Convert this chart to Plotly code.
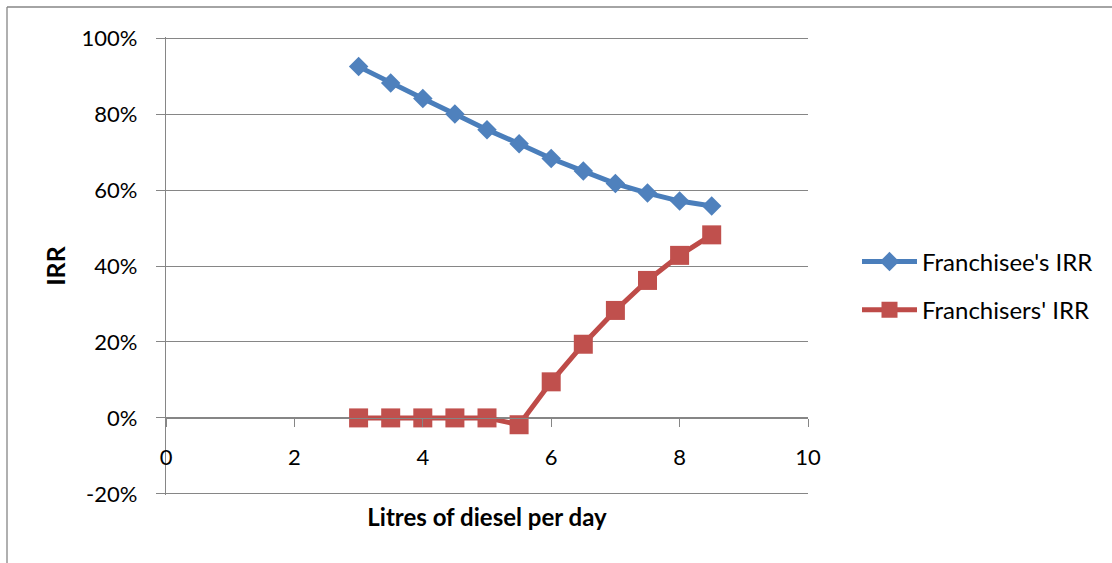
import plotly.graph_objects as go

# Litres of diesel per day and the IRR of each party
litres = [3, 3.5, 4, 4.5, 5, 5.5, 6, 6.5, 7, 7.5, 8, 8.5]
franchisee_irr = [0.925, 0.882, 0.841, 0.800, 0.759, 0.722, 0.683, 0.650, 0.617, 0.592, 0.571, 0.558]
franchiser_irr = [0.0, 0.0, 0.0, 0.0, 0.0, -0.018, 0.095, 0.194, 0.283, 0.362, 0.428, 0.482]

x_ticks = [0, 2, 4, 6, 8, 10]
y_ticks = [-0.2, 0.0, 0.2, 0.4, 0.6, 0.8, 1.0]
y_labels = [f"{v:.0%}" for v in y_ticks]

FONT = "Lato"
GRID = "#868686"

fig = go.Figure()
fig.add_trace(go.Scatter(
    x=litres, y=franchisee_irr, name="Franchisee's IRR", mode="lines+markers",
    line=dict(color="#4A7EBB", width=5),
    marker=dict(symbol="diamond", size=15, color="#4F81BD", line=dict(width=0)),
    legendgroup="a",
))
fig.add_trace(go.Scatter(
    x=litres, y=franchiser_irr, name="Franchisers' IRR", mode="lines+markers",
    line=dict(color="#BE4B48", width=5),
    marker=dict(symbol="square", size=19, color="#C0504D", line=dict(width=0)),
    legendgroup="b",
))

L, R, T, B = 166, 304, 37, 68
W, H = 1112, 563
pw, ph = W - L - R, H - T - B

def px_x(p):
    return (p - L) / pw

def px_y(p):
    return (H - B - p) / ph

# outer chart frame (left and top edges)
fig.add_shape(type="line", xref="paper", yref="paper",
              x0=px_x(7), y0=px_y(7), x1=px_x(W + 5), y1=px_y(7),
              line=dict(color=GRID, width=1.3))
fig.add_shape(type="line", xref="paper", yref="paper",
              x0=px_x(7), y0=px_y(7), x1=px_x(7), y1=px_y(H + 5),
              line=dict(color=GRID, width=1.3))

y_min, y_max = y_ticks[0], y_ticks[-1]
pad = 0.003

fig.update_layout(
    width=W, height=H,
    margin=dict(l=L, r=R, t=T, b=B),
    paper_bgcolor="white", plot_bgcolor="white",
    font=dict(family=FONT, size=22, color="black"),
    showlegend=True,
    legend=dict(
        x=px_x(857), y=px_y(286), xanchor="left", yanchor="middle",
        font=dict(family=FONT, size=24, color="black"),
        tracegroupgap=14, itemwidth=55, bgcolor="rgba(0,0,0,0)",
    ),
    xaxis=dict(
        range=[x_ticks[0], x_ticks[-1]], tickvals=x_ticks,
        showgrid=False, zeroline=False,
        showline=True, linecolor=GRID, linewidth=1.3,
        ticks="outside", ticklen=8, tickcolor=GRID, tickwidth=1.3,
        anchor="free", position=(0 - y_min + pad) / (y_max - y_min + 2 * pad),
        ticklabelstandoff=12,
        title=dict(text="<b>Litres of diesel per day</b>", standoff=39,
                   font=dict(family=FONT, size=24)),
    ),
    yaxis=dict(
        range=[y_min - pad, y_max + pad],
        tickmode="array", tickvals=y_ticks, ticktext=y_labels,
        showgrid=True, gridcolor=GRID, gridwidth=1.3,
        zeroline=False,
        showline=True, linecolor=GRID, linewidth=1.3,
        ticks="outside", ticklen=9, tickcolor=GRID, tickwidth=1.3,
        ticklabelstandoff=14,
        title=dict(text="<b>IRR</b>", standoff=8, font=dict(family=FONT, size=25)),
    ),
)

fig.write_html("out.html")
